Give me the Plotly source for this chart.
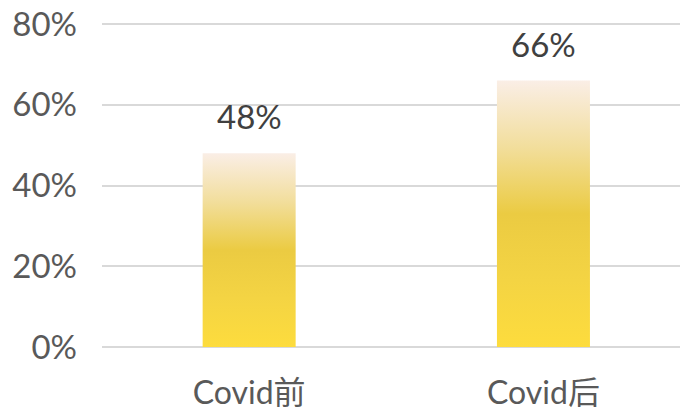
import plotly.graph_objects as go

categories = ["Covid前", "Covid后"]
values = [0.48, 0.66]
value_labels = ["48%", "66%"]
y_tickvals = [0, 0.2, 0.4, 0.6, 0.8]
y_ticktext = ["0%", "20%", "40%", "60%", "80%"]

bar_width = 0.316
font_family = "Lato, 'Noto Sans CJK SC', sans-serif"
grad = [[0.0, "#FDDC3D"], [0.25, "#F4D443"], [0.5, "#EBCB42"],
        [0.75, "#F2DE9C"], [1.0, "#FAEEE6"]]

fig = go.Figure()
for i, v in enumerate(values):
    xs = [i - bar_width / 2, i + bar_width / 2, i + bar_width / 2, i - bar_width / 2, i - bar_width / 2]
    ys = [0, 0, v, v, 0]
    fig.add_trace(go.Scatter(
        x=xs, y=ys, mode="lines", fill="toself",
        line=dict(width=0, color="rgba(0,0,0,0)"),
        fillgradient=dict(type="vertical", colorscale=grad, start=0, stop=v),
        hoverinfo="skip", showlegend=False,
    ))

for i, (v, t) in enumerate(zip(values, value_labels)):
    fig.add_annotation(x=i, y=v, text=t, showarrow=False, yanchor="middle", yshift=37,
                       font=dict(family=font_family, size=33, color="#404040"))

fig.update_layout(
    width=680, height=411,
    margin=dict(l=102, r=0, t=20, b=64),
    paper_bgcolor="white", plot_bgcolor="white",
    showlegend=False,
    font=dict(family=font_family, color="#595959", size=33),
)
fig.update_xaxes(
    range=[-0.5, 1.464], tickvals=list(range(len(categories))), ticktext=categories,
    showgrid=False, zeroline=False, showline=False, ticks="",
    ticklabelstandoff=24, automargin=False,
    tickfont=dict(family=font_family, size=32, color="#595959"),
    fixedrange=True,
)
fig.update_yaxes(
    range=[0, 0.81], tickvals=y_tickvals, ticktext=y_ticktext,
    showgrid=True, gridcolor="#D9D9D9", gridwidth=1.5,
    zeroline=True, zerolinecolor="#D9D9D9", zerolinewidth=2,
    showline=False, ticks="", ticklabelstandoff=24, automargin=False,
    tickfont=dict(family=font_family, size=33, color="#595959"),
    fixedrange=True,
)
fig.write_html("out.html", config={"displayModeBar": False},
               post_script="document.body.style.margin='0';")
